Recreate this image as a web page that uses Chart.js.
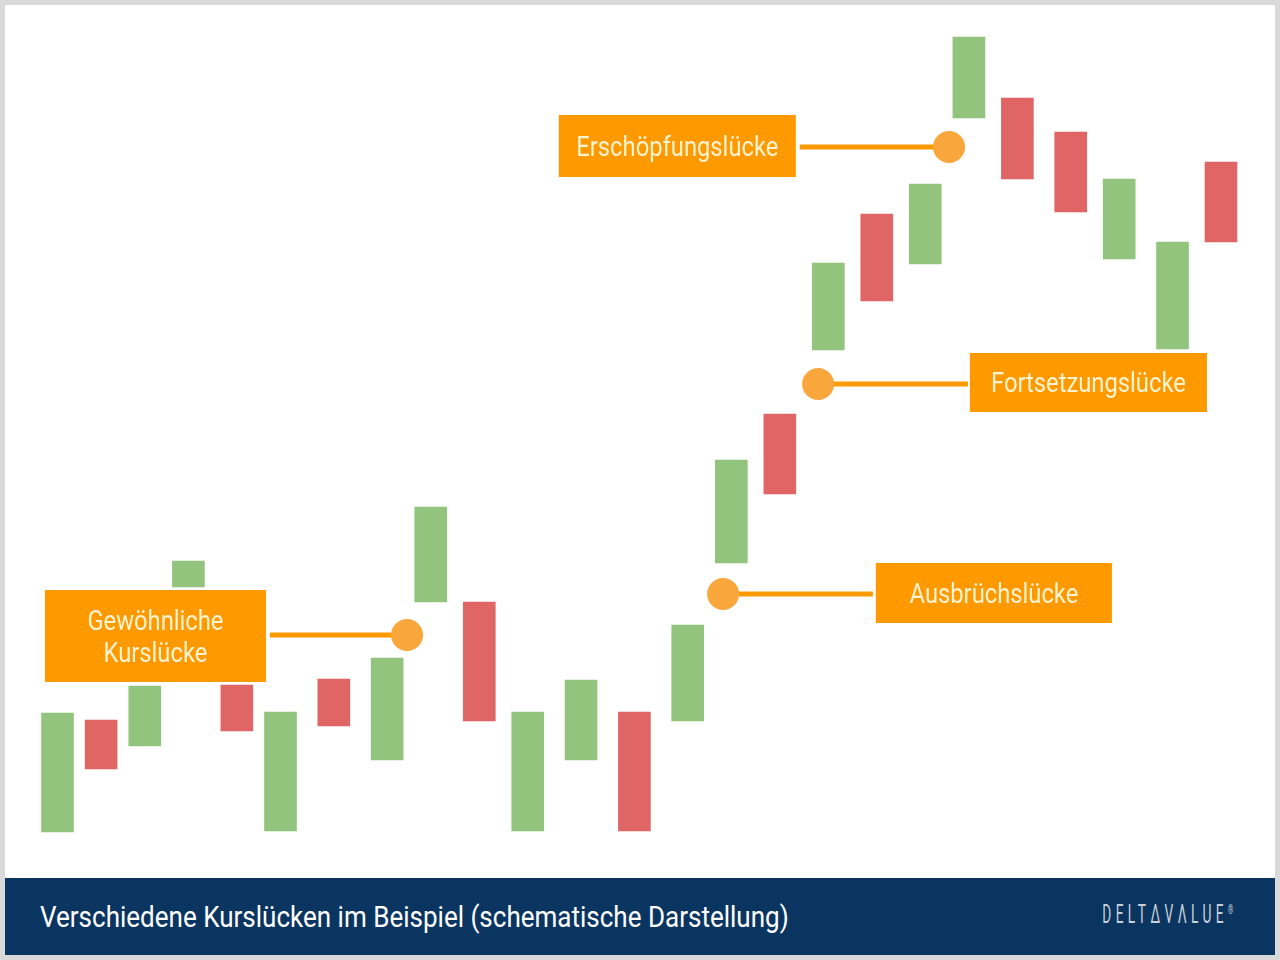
<!DOCTYPE html>
<html>
<head>
<meta charset="utf-8">
<script src="https://cdn.jsdelivr.net/npm/chart.js@4/dist/chart.umd.min.js"></script>
<style>
	html, body { margin: 0; padding: 0; }
	body { width: 1280px; height: 960px; background: #d9d9d9; position: relative; overflow: hidden; font-family: Roboto, sans-serif; }
	#card { position: absolute; left: 5px; top: 5px; width: 1270px; height: 950px; background: #ffffff; }
	#plot { position: absolute; left: 0; top: 0; width: 1270px; height: 873px; }
	#banner { position: absolute; left: 0; top: 873px; width: 1270px; height: 77px; background: #0b3561; }
	#title { position: absolute; left: 35px; top: 22px; color: #ffffff; font-size: 29px; white-space: nowrap; transform: scaleX(0.897); transform-origin: left center; }
	#logo { position: absolute; right: 42px; top: 22px; color: #c9d0d9; font-size: 25px; letter-spacing: 8px; white-space: nowrap; transform: scaleX(0.55); transform-origin: right center; }
	#logo sup { font-size: 12px; letter-spacing: 0; }
</style>
</head>
<body>
<div id="card">
	<div id="plot"><canvas id="chart"></canvas></div>
	<div id="banner">
		<div id="title">Verschiedene Kurslücken im Beispiel (schematische Darstellung)</div>
		<div id="logo">DELTΔVΛLUE<sup>®</sup></div>
	</div>
</div>
<script>
// candles (schematic), x = trading day, open/close in price units
const dayPos = [1.0, 1.9, 2.8, 3.7, 4.7, 5.6, 6.7, 7.8, 8.7, 9.7, 10.7, 11.8, 12.9, 14.0, 14.9, 15.9, 16.9, 17.9, 18.9, 19.8, 20.8, 21.9, 22.9, 24.0, 25.0];
const openVals  = [4.6, 15.8, 13.2, 29.1, 19.3, 4.7, 19.9, 11.8, 27.6, 27.6, 4.7, 11.8, 16.6, 15.7, 31.5, 46.4, 52.8, 66.4, 61.4, 76.0, 78.0, 74.6, 61.9, 52.9, 71.6];
const closeVals = [16.5, 10.9, 19.2, 31.7, 14.7, 16.6, 15.2, 22.0, 37.1, 15.7, 16.6, 19.8, 4.7, 25.3, 41.8, 38.4, 61.5, 57.7, 69.4, 84.1, 69.9, 66.6, 69.9, 63.6, 63.6];

// gap markers
const gapLabels = [['Gewöhnliche', 'Kurslücke'], ['Ausbrüchslücke'], ['Fortsetzungslücke'], ['Erschöpfungslücke']];
const gapX = [8.21, 14.73, 16.69, 19.39];
const gapY = [24.3, 28.4, 49.4, 73.1];
const gapLineEndX = [5.38, 17.82, 19.78, 16.31];
// label boxes: [left, right, top, bottom] in data units
const gapBoxes = [
	[0.74, 5.30, 28.8, 19.6],
	[17.88, 22.75, 31.5, 25.5],
	[19.82, 24.71, 52.5, 46.6],
	[11.34, 16.23, 76.3, 70.1]
];

const clrUp = '#93c47d';
const clrDown = '#e06666';
const clrOrange = '#ff9900';
const clrDot = '#f9a63c';
const clrLabel = '#fff4d2';

const candleData = dayPos.map(function(x, i) {
	return { x: x, y: [Math.min(openVals[i], closeVals[i]), Math.max(openVals[i], closeVals[i])] };
});
const candleColors = dayPos.map(function(x, i) {
	return closeVals[i] >= openVals[i] ? clrUp : clrDown;
});

let datasets = [{
	type: 'bar',
	data: candleData,
	backgroundColor: candleColors,
	borderWidth: 0,
	barThickness: 32,
	order: 2
}];

for(let i = 0; i < gapX.length; ++i) {
	datasets.push({
		type: 'line',
		data: [{ x: gapX[i], y: gapY[i] }, { x: gapLineEndX[i], y: gapY[i] }],
		borderColor: clrOrange,
		borderWidth: 5,
		pointRadius: [16, 0],
		pointBackgroundColor: clrDot,
		pointBorderWidth: 0,
		pointHoverRadius: [16, 0],
		order: 1
	});
}

const gapLabelPlugin = {
	id: 'gapLabels',
	afterDatasetsDraw: function(chart) {
		const ctx = chart.ctx;
		const xs = chart.scales.x;
		const ys = chart.scales.y;
		ctx.save();
		for(let i = 0; i < gapBoxes.length; ++i) {
			const b = gapBoxes[i];
			const left = xs.getPixelForValue(b[0]);
			const right = xs.getPixelForValue(b[1]);
			const top = ys.getPixelForValue(b[2]);
			const bottom = ys.getPixelForValue(b[3]);
			ctx.fillStyle = clrOrange;
			ctx.fillRect(left, top, right - left, bottom - top);

			const lines = gapLabels[i];
			const lineH = 32;
			const cx = (left + right) / 2;
			const cy = (top + bottom) / 2;
			ctx.fillStyle = clrLabel;
			ctx.font = '27px Roboto';
			ctx.textAlign = 'center';
			ctx.textBaseline = 'middle';
			for(let l = 0; l < lines.length; ++l) {
				const ty = cy + (l - (lines.length - 1) / 2) * lineH + 3;
				ctx.save();
				ctx.translate(cx, ty);
				ctx.scale(0.88, 1);
				ctx.fillText(lines[l], 0, 0);
				ctx.restore();
			}
		}
		ctx.restore();
	}
};

const chart = new Chart('chart', {
	type: 'bar',
	data: { datasets: datasets },
	options: {
		responsive: true,
		maintainAspectRatio: false,
		animation: false,
		layout: { padding: 0, autoPadding: false },
		scales: {
			x: { type: 'linear', min: -0.083, max: 26.114, offset: false, display: false },
			y: { type: 'linear', min: 0, max: 87.3, display: false }
		},
		plugins: {
			legend: { display: false },
			title: { display: false },
			tooltip: { enabled: false }
		}
	},
	plugins: [gapLabelPlugin]
});
</script>
</body>
</html>
